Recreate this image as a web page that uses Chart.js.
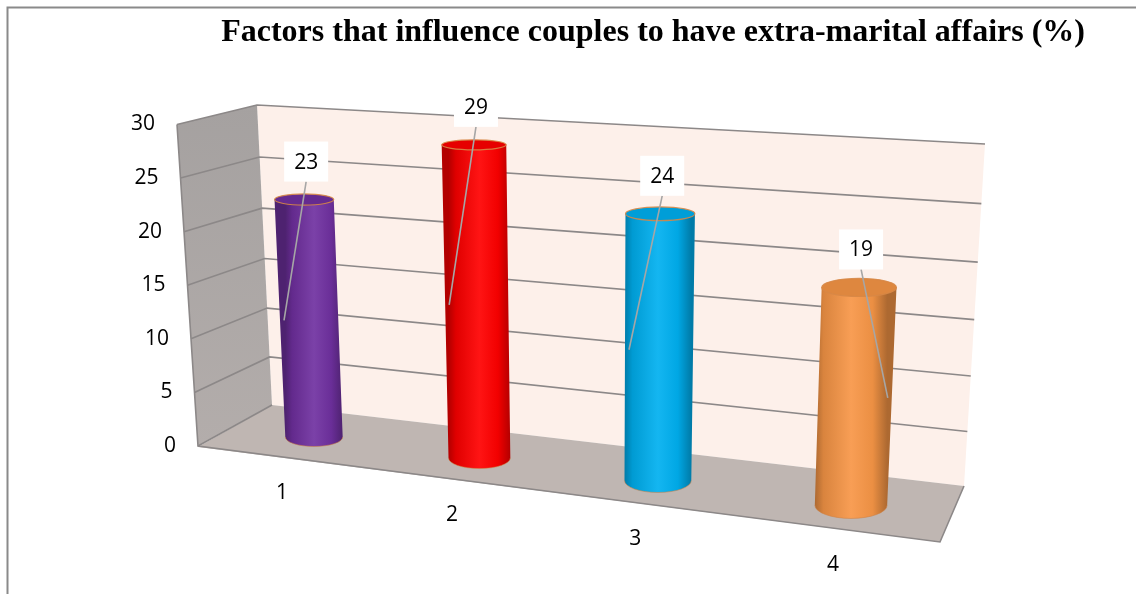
<!DOCTYPE html>
<html>
<head>
<meta charset="utf-8">
<script src="https://cdn.jsdelivr.net/npm/chart.js@4.4.1/dist/chart.umd.min.js"></script>
<style>
  html, body { margin: 0; padding: 0; background: #fff; }
  #wrap { width: 1136px; height: 594px; }
</style>
</head>
<body>
<div id="wrap"><canvas id="chart" width="1136" height="594"></canvas></div>
<script>
const categories = ['1', '2', '3', '4'];
const values = [23, 29, 24, 19];
const yTicks = [0, 5, 10, 15, 20, 25, 30];
const barColors = ['#7030a0', '#ff0000', '#00b0f0', '#f79646'];
const titleText = 'Factors that influence couples to have extra-marital affairs (%)';

// which side of the cylinder each leader line ends on
const leaderSide = [-1, -1, -1, 1];

// square -> quad projection (u,v in 0..1)
function makeProjection(p0, p1, p2, p3) {
    const dx1 = p1[0] - p2[0], dx2 = p3[0] - p2[0], dx3 = p0[0] - p1[0] + p2[0] - p3[0];
    const dy1 = p1[1] - p2[1], dy2 = p3[1] - p2[1], dy3 = p0[1] - p1[1] + p2[1] - p3[1];
    const den = dx1 * dy2 - dx2 * dy1;
    const g = (dx3 * dy2 - dx2 * dy3) / den;
    const h = (dx1 * dy3 - dx3 * dy1) / den;
    const a = p1[0] - p0[0] + g * p1[0], b = p3[0] - p0[0] + h * p3[0], c = p0[0];
    const d = p1[1] - p0[1] + g * p1[1], e = p3[1] - p0[1] + h * p3[1], f = p0[1];
    return (u, v) => {
        const w = g * u + h * v + 1;
        return { x: (a * u + b * v + c) / w, y: (d * u + e * v + f) / w };
    };
}

// planes of the 3d box
const backWall = makeProjection([272, 405], [964, 486], [985, 144], [257, 105]);
const midPlane = makeProjection([314, 437], [851, 505], [864, 155], [301, 124]);
const frontEdge = { top: [177, 124.5], bottom: [198, 446] };
const floorFront = { left: [198, 447], right: [940, 542] };

function shade(hex, f) {
    const n = parseInt(hex.slice(1), 16);
    let r = (n >> 16) & 255, g = (n >> 8) & 255, b = n & 255;
    const mix = (c) => f < 0 ? Math.round(c * (1 + f)) : Math.round(c + (255 - c) * f);
    return `rgb(${mix(r)},${mix(g)},${mix(b)})`;
}

function lerp(a, b, t) { return a + (b - a) * t; }

const box3d = {
    id: 'box3d',
    beforeDraw(chart) {
        const ctx = chart.ctx;
        const y = chart.scales.y;
        const vOf = (val) => (y.getPixelForValue(y.min) - y.getPixelForValue(val)) /
                             (y.getPixelForValue(y.min) - y.getPixelForValue(y.max));
        ctx.save();
        ctx.fillStyle = '#fff';
        ctx.fillRect(0, 0, chart.width, chart.height);

        // outer frame
        ctx.strokeStyle = '#8a8a8a';
        ctx.lineWidth = 2;
        ctx.beginPath();
        ctx.moveTo(7.5, chart.height);
        ctx.lineTo(7.5, 7.5);
        ctx.lineTo(chart.width, 7.5);
        ctx.stroke();

        // back wall
        const bw = [backWall(0, 0), backWall(1, 0), backWall(1, 1), backWall(0, 1)];
        ctx.fillStyle = '#fdf0ea';
        ctx.beginPath();
        bw.forEach((p, i) => i ? ctx.lineTo(p.x, p.y) : ctx.moveTo(p.x, p.y));
        ctx.closePath();
        ctx.fill();

        // left wall
        const ft = frontEdge.top, fb = frontEdge.bottom;
        const lw = ctx.createLinearGradient(0, 105, 0, 447);
        lw.addColorStop(0, '#a5a1a0');
        lw.addColorStop(1, '#b3adab');
        ctx.fillStyle = lw;
        ctx.beginPath();
        ctx.moveTo(fb[0], fb[1]);
        ctx.lineTo(bw[0].x, bw[0].y);
        ctx.lineTo(bw[3].x, bw[3].y);
        ctx.lineTo(ft[0], ft[1]);
        ctx.closePath();
        ctx.fill();

        // floor
        ctx.fillStyle = '#bfb6b2';
        ctx.beginPath();
        ctx.moveTo(bw[0].x, bw[0].y);
        ctx.lineTo(bw[1].x, bw[1].y);
        ctx.lineTo(floorFront.right[0], floorFront.right[1]);
        ctx.lineTo(floorFront.left[0], floorFront.left[1]);
        ctx.closePath();
        ctx.fill();

        // gridlines on back and left walls
        ctx.lineWidth = 1.6;
        yTicks.forEach(t => {
            const v = vOf(t);
            const a = backWall(0, v), b = backWall(1, v);
            const fx = lerp(fb[0], ft[0], v), fy = lerp(fb[1], ft[1], v);
            ctx.strokeStyle = '#8c8888';
            ctx.beginPath();
            ctx.moveTo(fx, fy);
            ctx.lineTo(a.x, a.y);
            if (t > 0) ctx.lineTo(b.x, b.y);
            ctx.stroke();
        });

        // box edges
        ctx.strokeStyle = '#8c8888';
        ctx.lineWidth = 1.6;
        ctx.beginPath();
        ctx.moveTo(ft[0], ft[1]);
        ctx.lineTo(fb[0], fb[1]);
        ctx.lineTo(floorFront.right[0], floorFront.right[1]);
        ctx.lineTo(bw[1].x, bw[1].y);
        ctx.stroke();

        // y tick labels
        ctx.fillStyle = '#000';
        ctx.font = '21px "Open Sans"';
        ctx.textAlign = 'right';
        ctx.textBaseline = 'middle';
        yTicks.forEach(t => {
            const v = vOf(t);
            ctx.fillText(String(t), lerp(fb[0], ft[0], v) - 22, lerp(fb[1], ft[1], v));
        });
        ctx.restore();
    },
    beforeDatasetsDraw(chart) {
        const ctx = chart.ctx;
        const x = chart.scales.x, y = chart.scales.y;
        const meta = chart.getDatasetMeta(0);
        const x0 = x.getPixelForValue(0), x1 = x.getPixelForValue(categories.length - 1);
        const uOf = (px) => (px - x0) / (x1 - x0);
        const vOf = (val) => (y.getPixelForValue(y.min) - y.getPixelForValue(val)) /
                             (y.getPixelForValue(y.min) - y.getPixelForValue(y.max));
        const ryFor = (rx, py) => rx * Math.min(0.42, 0.156 + (py - 145) * 0.0006);

        ctx.save();
        meta.data.forEach((bar, i) => {
            const val = values[i];
            const uc = uOf(bar.x), ul = uOf(bar.x - bar.width / 2), ur = uOf(bar.x + bar.width / 2);
            const vt = vOf(val);
            const B = midPlane(uc, 0), T = midPlane(uc, vt);
            const rxB = (midPlane(ur, 0).x - midPlane(ul, 0).x) / 2;
            const rxT = (midPlane(ur, vt).x - midPlane(ul, vt).x) / 2;
            const ryB = ryFor(rxB, B.y), ryT = ryFor(rxT, T.y);
            const col = barColors[i];

            // body
            const grad = ctx.createLinearGradient(B.x - rxB, 0, B.x + rxB, 0);
            grad.addColorStop(0, shade(col, -0.3));
            grad.addColorStop(0.12, shade(col, -0.12));
            grad.addColorStop(0.5, shade(col, 0.08));
            grad.addColorStop(0.8, shade(col, -0.05));
            grad.addColorStop(1, shade(col, -0.3));
            ctx.fillStyle = grad;
            ctx.beginPath();
            ctx.moveTo(T.x - rxT, T.y);
            ctx.lineTo(B.x - rxB, B.y);
            ctx.ellipse(B.x, B.y, rxB, ryB, 0, Math.PI, 0, true);
            ctx.lineTo(T.x + rxT, T.y);
            ctx.closePath();
            ctx.fill();
            ctx.strokeStyle = 'rgba(205,130,70,0.55)';
            ctx.lineWidth = 1;
            ctx.beginPath();
            ctx.ellipse(B.x, B.y, rxB, ryB, 0, Math.PI, 0, true);
            ctx.stroke();

            // top cap
            ctx.fillStyle = shade(col, -0.1);
            ctx.beginPath();
            ctx.ellipse(T.x, T.y, rxT, ryT, 0, 0, Math.PI * 2);
            ctx.fill();
            ctx.strokeStyle = 'rgba(215,135,70,0.9)';
            ctx.lineWidth = 1.2;
            ctx.stroke();

            // data label with leader line
            const bx = T.x + 2, by = T.y - 38;
            const M = midPlane(uc, vt / 2);
            const rxM = (midPlane(ur, vt / 2).x - midPlane(ul, vt / 2).x) / 2;
            ctx.strokeStyle = '#a6a6a6';
            ctx.lineWidth = 1.6;
            ctx.beginPath();
            ctx.moveTo(bx, by + 20);
            ctx.lineTo(M.x + leaderSide[i] * (rxM - 4), M.y);
            ctx.stroke();
            ctx.fillStyle = '#fff';
            ctx.fillRect(bx - 22, by - 20, 44, 40);
            ctx.fillStyle = '#000';
            ctx.font = '21px "Open Sans"';
            ctx.textAlign = 'center';
            ctx.textBaseline = 'middle';
            ctx.fillText(String(val), bx, by + 1);

            // category label in front of the floor
            const t = uc;
            ctx.fillText(categories[i], B.x - 32 + 14 * t, B.y + 56 + 4 * t);
        });
        ctx.restore();
        return false;
    }
};

new Chart(document.getElementById('chart'), {
    type: 'bar',
    data: {
        labels: categories,
        datasets: [{
            data: values,
            backgroundColor: barColors,
            categoryPercentage: 1,
            barPercentage: 0.36
        }]
    },
    options: {
        responsive: false,
        animation: false,
        layout: { padding: { top: 8, right: 51 } },
        plugins: {
            legend: { display: false },
            tooltip: { enabled: false },
            title: {
                display: true,
                text: titleText,
                align: 'end',
                color: '#000',
                font: { family: '"Liberation Serif", "Times New Roman", serif', size: 32, weight: 'bold' },
                padding: { top: 6, bottom: 10 }
            }
        },
        scales: {
            x: { display: false },
            y: { display: false, min: 0, max: 30, ticks: { stepSize: 5 } }
        }
    },
    plugins: [box3d]
});
</script>
</body>
</html>
